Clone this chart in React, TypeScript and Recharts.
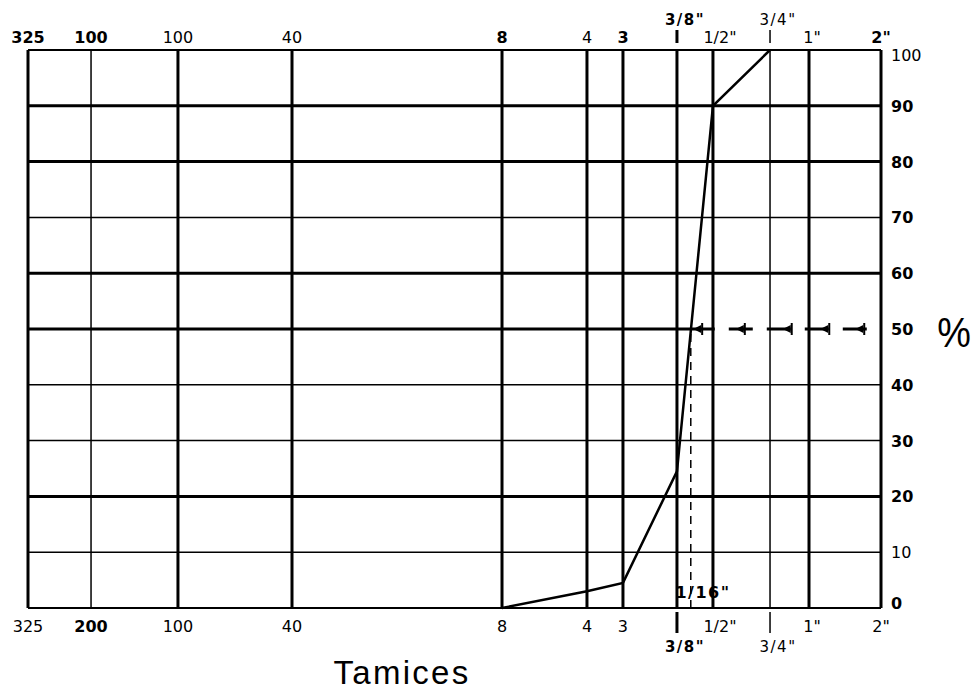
import { LineChart, Line, XAxis, YAxis, ReferenceLine } from "recharts";

// sieve names and their place on the grading chart's abscissa (0 = #325, 100 = 2")
const sieves = ["325", "200", "100", "40", "8", "4", "3", "3/8\"", "1/2\"", "3/4\"", "1\"", "2\""];
const sievePos = [0, 7.39, 17.58, 30.95, 55.57, 65.53, 69.75, 76.08, 80.3, 86.99, 91.56, 100];

// labels as printed on the sheet (top row says 100 over the #200 line)
const topLabels = ["325", "100", "100", "40", "8", "4", "3", "|", "1/2\"", "|", "1\"", "2\""];
const bottomLabels = ["325", "200", "100", "40", "8", "4", "3", "|", "1/2\"", "|", "1\"", "2\""];
const extraLabels = ["", "", "", "", "", "", "", "3/8\"", "", "3/4\"", "", ""];

// % passing
const curveSieves = ["8", "4", "3", "3/8\"", "1/2\"", "3/4\""];
const passing = [0, 3, 4.5, 24.5, 90, 100];

const pctTicks = [0, 10, 20, 30, 40, 50, 60, 70, 80, 90, 100];
const d50 = 77.7;
const arrowPos = [78.8, 83.8, 89.3, 93.7, 97.8];

const thinSieves = ["200", "3/4\""];
const heavyPct = [90, 80, 60, 20];
// which printed labels come out heavy on the sheet (by sieve index)
const boldTop = [0, 1, 4, 6, 11];
const boldBottom = [1];

const curveData = curveSieves.map((s, i) => ({ x: sievePos[sieves.indexOf(s)], pct: passing[i] }));
const guideData = [
  { x: d50, pct: 50, arrow: false },
  ...arrowPos.map((x) => ({ x, pct: 50, arrow: true })),
  { x: 100, pct: 50, arrow: false },
];

const FONT = "'DejaVu Sans', sans-serif";

function SieveTick(props: any) {
  const { x, y, payload, side } = props;
  const i = sievePos.findIndex((p) => Math.abs(p - payload.value) < 1e-6);
  if (i < 0) return null;
  const top = side === "top";
  const label = top ? topLabels[i] : bottomLabels[i];
  const name = sieves[i];
  const bold = top ? boldTop.includes(i) : boldBottom.includes(i);
  const dx = name === "1/2\"" ? 7 : name === "1\"" ? 3 : 0;
  const thin = thinSieves.includes(name);
  return (
    <g fontFamily={FONT} fill="#000">
      {label === "|" ? (
        <line
          x1={x}
          x2={x}
          y1={top ? y - 20 : y + 4}
          y2={top ? y - 7 : y + 25}
          stroke="#000"
          strokeWidth={thin ? 1.5 : 3}
        />
      ) : (
        <text x={x + dx} y={top ? y - 7 : y + 24} textAnchor="middle" fontSize={16} fontWeight={bold ? 700 : 400}>
          {label}
        </text>
      )}
      {extraLabels[i] && (
        <text
          x={x + 8}
          y={top ? y - 25 : y + 44}
          textAnchor="middle"
          fontSize={15}
          fontWeight={name === "3/8\"" ? 700 : 400}
          letterSpacing={1.5}
        >
          {extraLabels[i]}
        </text>
      )}
    </g>
  );
}

function PctTick(props: any) {
  const { x, y, payload } = props;
  const v = payload.value;
  const dy = v === 100 ? 11 : v === 0 ? 1 : 6;
  return (
    <text x={x + 10} y={y + dy} fontFamily={FONT} fontSize={16} fontWeight={v === 100 || v === 10 ? 400 : 700} fill="#000">
      {v}
    </text>
  );
}

function Arrow(props: any) {
  const { cx, cy, payload } = props;
  if (!payload || !payload.arrow) return <g />;
  return (
    <g>
      <path d={`M${cx - 7},${cy} L${cx + 1},${cy - 4} L${cx + 1},${cy + 4} Z`} fill="#000" />
      <line x1={cx + 2} x2={cx + 2} y1={cy - 6} y2={cy + 6} stroke="#000" strokeWidth={2} />
    </g>
  );
}

export default function App() {
  return (
    <div style={{ position: "absolute", left: 0, top: 0, width: 974, height: 692, background: "#fff" }}>
      <LineChart width={974} height={692} margin={{ top: 10, right: 33, bottom: 34, left: 28 }}>
        <XAxis
          xAxisId="bottom"
          orientation="bottom"
          type="number"
          dataKey="x"
          domain={[0, 100]}
          allowDataOverflow
          ticks={sievePos}
          interval={0}
          height={50}
          axisLine={false}
          tickLine={false}
          tickSize={0}
          tickMargin={0}
          tick={<SieveTick side="bottom" />}
        />
        <XAxis
          xAxisId="top"
          orientation="top"
          type="number"
          dataKey="x"
          domain={[0, 100]}
          allowDataOverflow
          ticks={sievePos}
          interval={0}
          height={40}
          axisLine={false}
          tickLine={false}
          tickSize={0}
          tickMargin={0}
          tick={<SieveTick side="top" />}
        />
        <YAxis
          yAxisId="pct"
          orientation="right"
          type="number"
          domain={[0, 100]}
          ticks={pctTicks}
          interval={0}
          width={60}
          axisLine={false}
          tickLine={false}
          tickSize={0}
          tickMargin={0}
          tick={<PctTick />}
        />

        {pctTicks
          .filter((v) => v !== 50)
          .map((v) => (
            <ReferenceLine
              key={`h${v}`}
              xAxisId="bottom"
              yAxisId="pct"
              y={v}
              stroke="#000"
              strokeWidth={heavyPct.includes(v) ? 3 : v === 0 || v === 100 ? 2 : 1.5}
            />
          ))}
        <ReferenceLine
          xAxisId="bottom"
          yAxisId="pct"
          segment={[{ x: 0, y: 50 }, { x: d50, y: 50 }]}
          stroke="#000"
          strokeWidth={3}
        />
        {sievePos.map((p, i) => (
          <ReferenceLine
            key={`v${i}`}
            xAxisId="top"
            yAxisId="pct"
            x={p}
            stroke="#000"
            strokeWidth={thinSieves.includes(sieves[i]) ? 1.5 : 3}
          />
        ))}
        <ReferenceLine
          xAxisId="bottom"
          yAxisId="pct"
          segment={[{ x: d50, y: 0 }, { x: d50, y: 50 }]}
          stroke="#000"
          strokeWidth={1.5}
          strokeDasharray="8 6"
        />

        <Line
          xAxisId="bottom"
          yAxisId="pct"
          data={guideData}
          dataKey="pct"
          type="linear"
          stroke="#000"
          strokeWidth={3}
          strokeDasharray="24 14"
          dot={<Arrow />}
          activeDot={false}
          isAnimationActive={false}
        />
        <Line
          xAxisId="bottom"
          yAxisId="pct"
          data={curveData}
          dataKey="pct"
          type="linear"
          stroke="#000"
          strokeWidth={2.5}
          dot={false}
          activeDot={false}
          isAnimationActive={false}
        />
      </LineChart>

      <div
        style={{
          position: "absolute",
          left: 703,
          top: 593,
          transform: "translate(-50%, -50%)",
          fontFamily: FONT,
          fontSize: 16,
          fontWeight: 700,
          letterSpacing: 1.5,
          lineHeight: 1,
          whiteSpace: "nowrap",
        }}
      >
        1/16"
      </div>
      <div
        style={{
          position: "absolute",
          left: 954,
          top: 333,
          transform: "translate(-50%, -50%) scaleX(0.9)",
          fontFamily: "'Liberation Sans', Arial, sans-serif",
          fontSize: 42,
          lineHeight: 1,
        }}
      >
        %
      </div>
      <div
        style={{
          position: "absolute",
          left: 402,
          top: 672,
          transform: "translate(-50%, -50%)",
          fontFamily: "'Liberation Sans', Arial, sans-serif",
          fontSize: 33,
          letterSpacing: 2.3,
          lineHeight: 1,
          whiteSpace: "nowrap",
        }}
      >
        Tamices
      </div>
    </div>
  );
}
